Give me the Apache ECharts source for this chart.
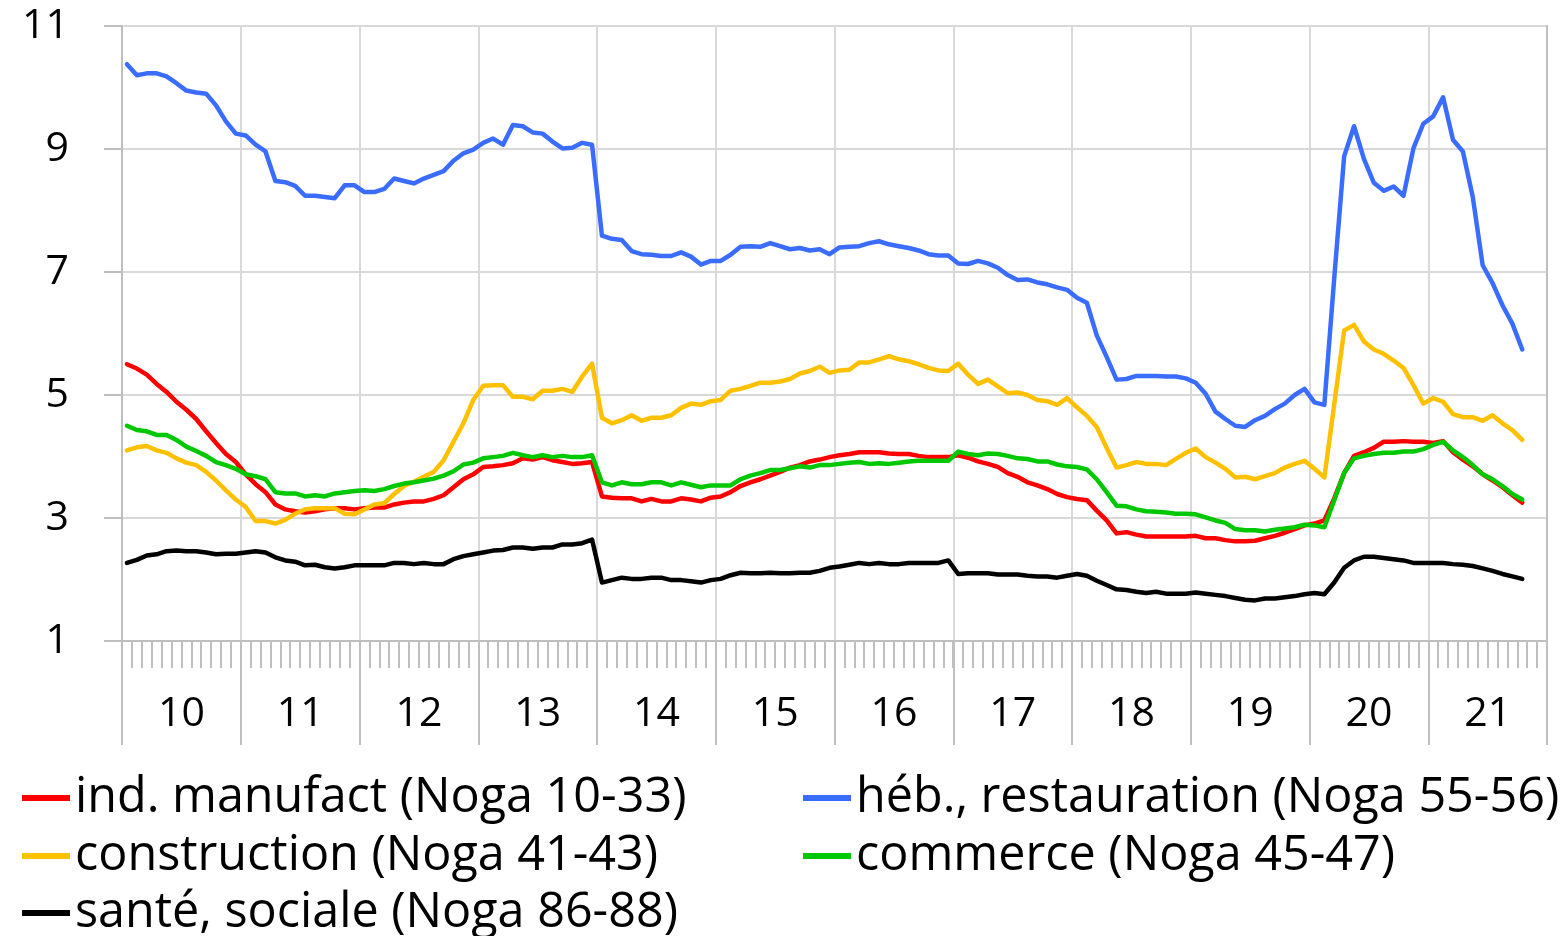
<!DOCTYPE html>
<html>
<head>
<meta charset="utf-8">
<script src="https://cdn.jsdelivr.net/npm/echarts@6/dist/echarts.min.js"></script>
<style>
html, body {margin: 0; padding: 0; background: #fff;}
#chart {width: 1567px; height: 936px;}
</style>
</head>
<body>
<div id="chart"></div>
<script>
var years = ["10", "11", "12", "13", "14", "15", "16", "17", "18", "19", "20", "21"];

var seriesNames = [
    "ind. manufact (Noga 10-33)",
    "héb., restauration (Noga 55-56)",
    "construction (Noga 41-43)",
    "commerce (Noga 45-47)",
    "santé, sociale (Noga 86-88)"
];

var manufact = [
    5.50, 5.43, 5.33, 5.18, 5.05, 4.89, 4.76, 4.61, 4.41, 4.22, 4.04, 3.91,
    3.71, 3.55, 3.42, 3.22, 3.14, 3.11, 3.09, 3.11, 3.14, 3.16, 3.16, 3.14,
    3.16, 3.17, 3.17, 3.22, 3.25, 3.27, 3.27, 3.31, 3.37, 3.50, 3.63, 3.71,
    3.83, 3.84, 3.86, 3.89, 3.97, 3.95, 3.99, 3.94, 3.91, 3.88, 3.89, 3.91,
    3.35, 3.33, 3.32, 3.32, 3.27, 3.31, 3.27, 3.27, 3.32, 3.30, 3.27, 3.33,
    3.35, 3.42, 3.52, 3.58, 3.63, 3.69, 3.75, 3.82, 3.86, 3.92, 3.95, 3.99,
    4.02, 4.04, 4.07, 4.07, 4.07, 4.05, 4.04, 4.04, 4.01, 3.99, 3.99, 3.99,
    4.02, 3.98, 3.92, 3.88, 3.83, 3.73, 3.67, 3.58, 3.53, 3.47, 3.39, 3.34,
    3.31, 3.29, 3.12, 2.96, 2.75, 2.77, 2.73, 2.70, 2.70, 2.70, 2.70, 2.70,
    2.71, 2.67, 2.67, 2.64, 2.62, 2.62, 2.63, 2.67, 2.71, 2.76, 2.82, 2.88,
    2.91, 2.96, 3.32, 3.73, 4.01, 4.07, 4.14, 4.24, 4.24, 4.25, 4.24, 4.24,
    4.22, 4.25, 4.07, 3.95, 3.84, 3.71, 3.61, 3.50, 3.37, 3.25
];

var hebergement = [
    10.38, 10.20, 10.23, 10.23, 10.18, 10.07, 9.95, 9.92, 9.90, 9.71, 9.45, 9.25,
    9.22, 9.07, 8.96, 8.48, 8.46, 8.40, 8.24, 8.24, 8.22, 8.20, 8.41, 8.41,
    8.30, 8.30, 8.35, 8.52, 8.48, 8.44, 8.52, 8.58, 8.64, 8.81, 8.93, 8.99,
    9.10, 9.17, 9.07, 9.39, 9.37, 9.27, 9.25, 9.12, 9.01, 9.02, 9.10, 9.07,
    7.59, 7.54, 7.52, 7.34, 7.29, 7.28, 7.26, 7.26, 7.32, 7.25, 7.12, 7.18,
    7.18, 7.28, 7.41, 7.42, 7.41, 7.47, 7.42, 7.37, 7.39, 7.35, 7.37, 7.29,
    7.40, 7.41, 7.42, 7.47, 7.50, 7.45, 7.42, 7.39, 7.35, 7.29, 7.27, 7.27,
    7.14, 7.13, 7.18, 7.14, 7.07, 6.95, 6.87, 6.88, 6.83, 6.80, 6.75, 6.71,
    6.58, 6.50, 5.97, 5.62, 5.25, 5.26, 5.31, 5.31, 5.31, 5.30, 5.30, 5.27,
    5.20, 5.02, 4.73, 4.61, 4.50, 4.48, 4.59, 4.66, 4.77, 4.86, 5.00, 5.10,
    4.88, 4.84, 6.90, 8.88, 9.37, 8.84, 8.45, 8.32, 8.39, 8.24, 9.01, 9.41,
    9.53, 9.84, 9.15, 8.96, 8.22, 7.11, 6.82, 6.46, 6.16, 5.74
];

var construction = [
    4.10, 4.15, 4.17, 4.10, 4.06, 3.97, 3.90, 3.86, 3.75, 3.61, 3.45, 3.30,
    3.18, 2.95, 2.95, 2.91, 2.97, 3.07, 3.14, 3.16, 3.16, 3.16, 3.07, 3.06,
    3.14, 3.22, 3.24, 3.39, 3.52, 3.59, 3.67, 3.75, 3.94, 4.24, 4.54, 4.92,
    5.15, 5.16, 5.16, 4.97, 4.97, 4.93, 5.07, 5.07, 5.10, 5.05, 5.30, 5.51,
    4.63, 4.54, 4.59, 4.67, 4.58, 4.63, 4.63, 4.67, 4.79, 4.86, 4.84, 4.90,
    4.92, 5.07, 5.10, 5.15, 5.20, 5.20, 5.22, 5.26, 5.35, 5.39, 5.46, 5.36,
    5.40, 5.41, 5.53, 5.53, 5.58, 5.63, 5.58, 5.55, 5.50, 5.44, 5.40, 5.39,
    5.51, 5.33, 5.18, 5.25, 5.14, 5.03, 5.04, 5.00, 4.92, 4.90, 4.84, 4.95,
    4.80, 4.66, 4.48, 4.14, 3.82, 3.86, 3.91, 3.88, 3.88, 3.86, 3.96, 4.06,
    4.13, 3.99, 3.90, 3.80, 3.66, 3.67, 3.63, 3.68, 3.73, 3.82, 3.88, 3.93,
    3.80, 3.66, 4.85, 6.05, 6.14, 5.87, 5.74, 5.67, 5.56, 5.44, 5.16, 4.86,
    4.95, 4.89, 4.69, 4.64, 4.64, 4.58, 4.67, 4.54, 4.43, 4.27
];

var commerce = [
    4.50, 4.43, 4.41, 4.35, 4.35, 4.27, 4.16, 4.09, 4.01, 3.91, 3.86, 3.80,
    3.71, 3.68, 3.63, 3.42, 3.40, 3.40, 3.35, 3.37, 3.35, 3.40, 3.42, 3.44,
    3.45, 3.44, 3.47, 3.52, 3.56, 3.58, 3.61, 3.64, 3.69, 3.76, 3.87, 3.90,
    3.97, 3.99, 4.01, 4.06, 4.02, 3.99, 4.02, 3.99, 4.01, 3.99, 3.99, 4.02,
    3.58, 3.53, 3.58, 3.55, 3.55, 3.58, 3.58, 3.53, 3.58, 3.54, 3.50, 3.53,
    3.53, 3.53, 3.63, 3.69, 3.73, 3.78, 3.78, 3.81, 3.84, 3.82, 3.86, 3.86,
    3.88, 3.90, 3.91, 3.88, 3.89, 3.88, 3.90, 3.92, 3.93, 3.93, 3.93, 3.93,
    4.08, 4.04, 4.02, 4.05, 4.04, 4.01, 3.97, 3.96, 3.92, 3.92, 3.87, 3.84,
    3.83, 3.79, 3.63, 3.42, 3.20, 3.19, 3.14, 3.11, 3.10, 3.09, 3.07, 3.07,
    3.06, 3.01, 2.96, 2.92, 2.82, 2.80, 2.80, 2.78, 2.81, 2.83, 2.85, 2.89,
    2.88, 2.85, 3.29, 3.73, 3.97, 4.01, 4.04, 4.06, 4.06, 4.08, 4.08, 4.12,
    4.19, 4.24, 4.10, 3.99, 3.86, 3.71, 3.63, 3.52, 3.39, 3.30
];

var sante = [
    2.27, 2.32, 2.39, 2.41, 2.46, 2.47, 2.46, 2.46, 2.44, 2.41, 2.42, 2.42,
    2.44, 2.46, 2.44, 2.36, 2.31, 2.29, 2.23, 2.24, 2.20, 2.18, 2.20, 2.23,
    2.23, 2.23, 2.23, 2.27, 2.27, 2.25, 2.27, 2.25, 2.25, 2.33, 2.38, 2.41,
    2.44, 2.47, 2.48, 2.52, 2.52, 2.50, 2.52, 2.52, 2.57, 2.57, 2.59, 2.65,
    1.95, 1.99, 2.03, 2.01, 2.01, 2.03, 2.03, 1.99, 1.99, 1.97, 1.95, 1.99,
    2.01, 2.07, 2.11, 2.10, 2.10, 2.11, 2.10, 2.10, 2.11, 2.11, 2.14, 2.19,
    2.21, 2.24, 2.27, 2.25, 2.27, 2.25, 2.25, 2.27, 2.27, 2.27, 2.27, 2.31,
    2.09, 2.10, 2.10, 2.10, 2.08, 2.08, 2.08, 2.06, 2.05, 2.05, 2.03, 2.06,
    2.09, 2.06, 1.98, 1.91, 1.84, 1.83, 1.80, 1.78, 1.80, 1.77, 1.77, 1.77,
    1.79, 1.77, 1.75, 1.73, 1.70, 1.67, 1.66, 1.69, 1.69, 1.71, 1.73, 1.76,
    1.78, 1.76, 1.95, 2.19, 2.31, 2.37, 2.37, 2.35, 2.33, 2.31, 2.27, 2.27,
    2.27, 2.27, 2.25, 2.24, 2.22, 2.18, 2.14, 2.09, 2.05, 2.01
];

var seriesData = [manufact, hebergement, construction, commerce, sante];
var seriesColors = ["#ff0000", "#3a6cff", "#ffc000", "#00c800", "#000000"];

function buildMonths(years) {
    var months = new Array();
    for (var y = 0; y < years.length; y++) {
        for (var m = 1; m <= 12; m++) {
            months.push(years[y] + "-" + (m < 10 ? "0" + m : m));
        }
    }
    return months;
}

function buildSeries() {
    var series = new Array();
    for (var i = 0; i < seriesNames.length; i++) {
        series.push({
            name: seriesNames[i],
            type: "line",
            xAxisIndex: 0,
            yAxisIndex: 0,
            symbol: "none",
            smooth: false,
            data: seriesData[i],
            lineStyle: {color: seriesColors[i], width: 4.5, cap: "round", join: "round"},
            itemStyle: {color: seriesColors[i]}
        });
    }
    return series;
}

var fontName = "Open Sans";
var gridColor = "#d9d9d9";
var axisColor = "#bfbfbf";

// one legend per entry so the two columns line up like the original
function buildLegend(left, centerY, name) {
    return {
        orient: "vertical",
        left: left,
        top: centerY - 27,
        padding: 0,
        itemWidth: 48,
        itemHeight: 6,
        itemGap: 0,
        icon: "rect",
        data: [name],
        textStyle: {fontFamily: fontName, fontSize: 48.5, color: "#000", lineHeight: 54}
    };
}

var option = {
    animation: false,
    backgroundColor: "#fff",
    grid: {left: 122, right: 20, top: 26, bottom: 295, containLabel: false},
    legend: [
        buildLegend(22, 798, seriesNames[0]),
        buildLegend(803, 798, seriesNames[1]),
        buildLegend(22, 856, seriesNames[2]),
        buildLegend(803, 856, seriesNames[3]),
        buildLegend(22, 913, seriesNames[4])
    ],
    xAxis: [{
        type: "category",
        position: "bottom",
        data: buildMonths(years),
        boundaryGap: true,
        axisLine: {show: true, lineStyle: {color: axisColor, width: 2}},
        axisTick: {show: true, interval: 0, length: 27, lineStyle: {color: axisColor, width: 2}},
        axisLabel: {show: false},
        splitLine: {show: false}
    }, {
        type: "category",
        position: "bottom",
        offset: 0,
        data: years,
        boundaryGap: true,
        axisLine: {show: false},
        axisTick: {show: true, interval: 0, length: 104, lineStyle: {color: axisColor, width: 2}},
        axisLabel: {show: true, interval: 0, margin: 53, fontFamily: fontName, fontSize: 41, color: "#000"},
        splitLine: {show: true, interval: 0, lineStyle: {color: gridColor, width: 2}}
    }],
    yAxis: [{
        type: "value",
        min: 1,
        max: 11,
        interval: 2,
        axisLine: {show: true, lineStyle: {color: axisColor, width: 2}},
        axisTick: {show: true, length: 18, lineStyle: {color: axisColor, width: 2}},
        axisLabel: {margin: 53, fontFamily: fontName, fontSize: 41, color: "#000"},
        splitLine: {show: true, lineStyle: {color: gridColor, width: 2}}
    }, {
        type: "value",
        position: "right",
        min: 1,
        max: 11,
        interval: 2,
        axisLine: {show: true, lineStyle: {color: axisColor, width: 2}},
        axisTick: {show: false},
        axisLabel: {show: false},
        splitLine: {show: false}
    }],
    series: buildSeries()
};

var chart = echarts.init(document.getElementById("chart"));
chart.setOption(option);
</script>
</body>
</html>
